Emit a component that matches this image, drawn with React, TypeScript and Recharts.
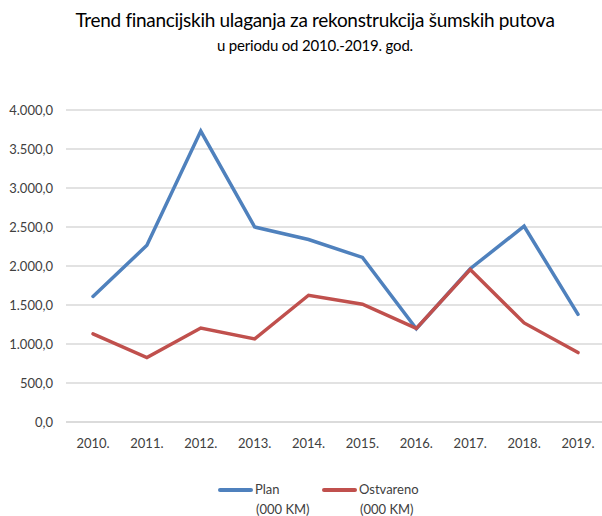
import { LineChart, Line, XAxis, YAxis, CartesianGrid } from "recharts";

const years = ["2010.", "2011.", "2012.", "2013.", "2014.", "2015.", "2016.", "2017.", "2018.", "2019."];
const plan = [1610, 2265, 3730, 2500, 2340, 2110, 1195, 1965, 2510, 1380];
const ostvareno = [1130, 825, 1205, 1065, 1625, 1510, 1200, 1955, 1270, 890];
const yTicks = [0, 500, 1000, 1500, 2000, 2500, 3000, 3500, 4000];

const title = "Trend financijskih ulaganja za rekonstrukcija šumskih putova";
const subtitle = "u periodu od 2010.-2019. god.";

const BLUE = "#4f81bd";
const RED = "#c0504d";
const FONT = "Lato, 'Noto Sans', sans-serif";

const data = years.map((y, i) => ({ year: y, plan: plan[i], ostvareno: ostvareno[i] }));

function fmt(v: number) {
  const [int, dec] = v.toFixed(1).split(".");
  return int.replace(/\B(?=(\d{3})+(?!\d))/g, ".") + "," + dec;
}

function LegendBox() {
  const items = [
    { label: "Plan", color: BLUE, x: 218 },
    { label: "Ostvareno", color: RED, x: 322 },
  ];
  return (
    <div style={{ position: "absolute", left: 0, top: 480, width: 602, height: 40, fontFamily: FONT, fontSize: 13, color: "#404040" }}>
      {items.map((it) => (
        <div key={it.label} style={{ position: "absolute", left: it.x, top: 0, display: "flex" }}>
          <div style={{ width: 35, height: 4, borderRadius: 2, background: it.color, marginTop: 8, marginRight: 2 }} />
          <div style={{ lineHeight: "20px", marginTop: -1 }}>
            <div>{it.label}</div>
            <div style={{ marginLeft: 1 }}>(000 KM)</div>
          </div>
        </div>
      ))}
    </div>
  );
}

export default function App() {
  return (
    <div style={{ position: "absolute", left: 0, top: 0, width: 602, height: 516, overflow: "hidden", background: "#fff" }}>
      <div style={{ position: "absolute", top: 8, width: 602, paddingLeft: 28, boxSizing: "border-box", textAlign: "center", fontFamily: FONT, fontSize: 19, letterSpacing: -0.3, color: "#000" }}>
        {title}
      </div>
      <div style={{ position: "absolute", top: 36, width: 602, paddingLeft: 28, boxSizing: "border-box", textAlign: "center", fontFamily: FONT, fontSize: 15, letterSpacing: -0.2, color: "#000" }}>
        {subtitle}
      </div>
      <LineChart width={602} height={516} data={data} margin={{ top: 110, right: 0, bottom: 64, left: 0 }}>
        <CartesianGrid vertical={false} stroke="#d9d9d9" strokeWidth={1.5} />
        <XAxis
          dataKey="year"
          padding={{ left: 27, right: 24 }}
          axisLine={{ stroke: "#d9d9d9", strokeWidth: 1.5 }}
          tickLine={false}
          tickMargin={11}
          interval={0}
          tick={{ fill: "#404040", fontSize: 13, fontFamily: FONT }}
        />
        <YAxis
          width={66}
          domain={[0, 4000]}
          ticks={yTicks}
          tickFormatter={fmt}
          axisLine={false}
          tickLine={false}
          tickMargin={7}
          tick={{ fill: "#404040", fontSize: 13, fontFamily: FONT }}
        />
        <Line type="linear" dataKey="plan" stroke={BLUE} strokeWidth={3.5} dot={false} strokeLinecap="round" isAnimationActive={false} />
        <Line type="linear" dataKey="ostvareno" stroke={RED} strokeWidth={3.5} dot={false} strokeLinecap="round" isAnimationActive={false} />
      </LineChart>
      <LegendBox />
    </div>
  );
}
